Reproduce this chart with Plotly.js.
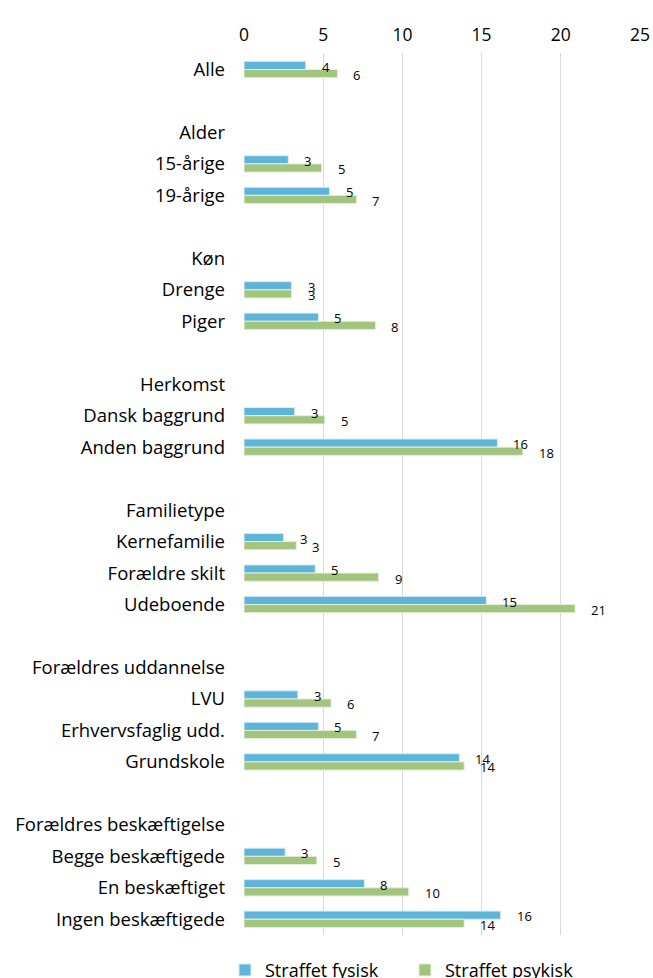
<!DOCTYPE html>
<html>
<head>
<meta charset="utf-8">
<script src="https://cdn.plot.ly/plotly-3.0.1.min.js"></script>
<style>html,body{margin:0;padding:0;background:#fff;}#chart{width:653px;height:978px;}</style>
</head>
<body>
<div id="chart"></div>
<script>
const categories = [
  "Alle", "", "Alder", "15-årige", "19-årige", "",
  "Køn", "Drenge", "Piger", "",
  "Herkomst", "Dansk baggrund", "Anden baggrund", "",
  "Familietype", "Kernefamilie", "Forældre skilt", "Udeboende", "",
  "Forældres uddannelse", "LVU", "Erhvervsfaglig udd.", "Grundskole", "",
  "Forældres beskæftigelse", "Begge beskæftigede", "En beskæftiget", "Ingen beskæftigede"
];
const fysisk = [
  3.9, null, null, 2.8, 5.4, null,
  null, 3.0, 4.7, null,
  null, 3.2, 16.0, null,
  null, 2.5, 4.5, 15.3, null,
  null, 3.4, 4.7, 13.6, null,
  null, 2.6, 7.6, 16.2
];
const psykisk = [
  5.9, null, null, 4.9, 7.1, null,
  null, 3.0, 8.3, null,
  null, 5.1, 17.6, null,
  null, 3.3, 8.5, 20.9, null,
  null, 5.5, 7.1, 13.9, null,
  null, 4.6, 10.4, 13.9
];
const seriesNames = ["Straffet fysisk", "Straffet psykisk"];
const xTicks = [0, 5, 10, 15, 20, 25];

const FONT = "'Open Sans', 'Noto Sans', sans-serif";
const rows = categories.map((c, i) => i);
const blue = "#5eb5d9", green = "#a3c47e";

const traces = [
  {type: "bar", orientation: "h", name: seriesNames[0], x: fysisk, y: rows,
   marker: {color: blue, line: {color: "#d8eef7", width: 1}}, hoverinfo: "x"},
  {type: "bar", orientation: "h", name: seriesNames[1], x: psykisk, y: rows,
   marker: {color: green, line: {color: "#e4efd8", width: 1}}, hoverinfo: "x"}
];

const annotations = [];
[[fysisk, 3], [psykisk, -5.5]].forEach(([arr, ys]) => {
  arr.forEach((v, i) => {
    if (v === null) return;
    annotations.push({
      x: v, y: i, xref: "x", yref: "y", text: String(Math.round(v)),
      showarrow: false, xanchor: "left", yanchor: "middle",
      xshift: 14, yshift: ys, font: {family: FONT, size: 13, color: "#000"}
    });
  });
});

const layout = {
  width: 653, height: 978,
  margin: {l: 244, r: 13, t: 53, b: 43, pad: 0, autoexpand: false},
  paper_bgcolor: "#fff", plot_bgcolor: "#fff",
  barmode: "group", bargap: 0.48, bargroupgap: 0,
  font: {family: FONT, color: "#000"},
  xaxis: {
    side: "top", range: [0, 25], tickvals: xTicks, ticktext: xTicks.map(String),
    showgrid: true, gridcolor: "#d9d9d9", gridwidth: 1,
    zeroline: false, showline: false, ticks: "",
    tickfont: {family: FONT, size: 17.5, color: "#000"}, ticklabelstandoff: 8,
    fixedrange: true
  },
  yaxis: {
    autorange: "reversed",
    tickmode: "array", tickvals: rows, ticktext: categories,
    showgrid: false, zeroline: false, showline: false, ticks: "",
    tickfont: {family: FONT, size: 18.5, color: "#000"}, ticklabelstandoff: 18,
    fixedrange: true
  },
  showlegend: true,
  legend: {
    orientation: "h", x: -0.048, xanchor: "left", y: -0.019, yanchor: "top",
    font: {family: FONT, size: 18, color: "#000"},
    entrywidth: 135, entrywidthmode: "pixels", traceorder: "normal"
  },
  annotations: annotations
};

Plotly.newPlot("chart", traces, layout, {displayModeBar: false, staticPlot: true});
</script>
</body>
</html>
